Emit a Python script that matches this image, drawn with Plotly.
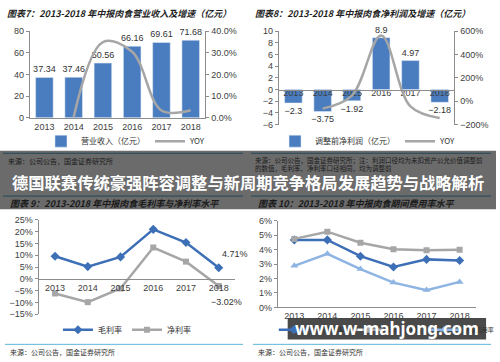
import plotly.graph_objects as go

W, H = 500, 362
def px(x): return x / W
def py(y): return 1 - y / H

# ---------------- data ----------------
years = ["2013", "2014", "2015", "2016", "2017", "2018"]

# chart 7
revenue = [37.34, 37.46, 50.56, 66.16, 69.61, 71.68]
revenue_yoy = [None, 0.003, 0.35, 0.305, 0.034, 0.035]

# chart 8
profit = [-2.3, -3.75, -1.92, 8.9, 4.97, -2.18]
profit_yoy = [None, -0.63, 0.488, 5.635, -0.442, -1.439]

# chart 9
gross_margin = [9.6, 5.2, 9.3, 21.0, 15.4, 4.71]
net_margin = [-6.2, -9.9, -4.1, 13.3, 7.3, -3.02]

# chart 10
exp_a = [4.68, 4.68, 3.55, 2.8, 3.33, 3.25]
exp_b = [4.75, 5.25, 4.48, 4.04, 3.97, 4.0]
exp_c = [2.88, 3.72, 2.66, 1.72, 1.2, 1.77]

titles = [
    "图表7：2013-2018 年中报肉食营业收入及增速（亿元）",
    "图表8：2013-2018 年中报肉食净利润及增速（亿元）",
    "图表 9：2013-2018 年中报肉食毛利率与净利率水平",
    "图表 10：2013-2018 年中报肉食期间费用率水平",
]
source_a = "来源：公司公告，国金证券研究所"
source_b1 = "来源：公司公告，国金证券研究所；注：利润口径均为未扣资产公允价值调整前"
source_b2 = "的数值，毛利率、净利率口径相同，均为调整前"
headline = "德国联赛传统豪强阵容调整与新周期竞争格局发展趋势与战略解析"
watermark = "www.w-mahjong.com"

BLUE = "#4a7dbf"
DBLUE = "#3d6fb6"
LBLUE = "#8db4e2"
GREY = "#a6a6a6"
AX = "#8c8c8c"
TXT = "#404040"
FONT = "Liberation Sans, Arial, Noto Sans CJK SC"
CJK = "Noto Sans CJK SC"
TF = dict(size=9, color=TXT, family=FONT)

# category positions (index of each year) for the x axes
xi = list(range(len(years)))

fig = go.Figure()

# chart 7
fig.add_trace(go.Bar(x=xi, y=revenue, name="营业收入（亿元）", marker_color=BLUE, width=0.6,
                     text=[f"{v:.2f}" for v in revenue], textposition="outside", constraintext="none",
                     textfont=dict(size=9, color="#333", family=FONT), cliponaxis=False,
                     xaxis="x", yaxis="y", legend="legend"))
fig.add_trace(go.Scatter(x=xi, y=revenue_yoy, name="YOY", mode="lines",
                         line=dict(color=GREY, width=2.5, shape="spline", smoothing=1.0),
                         xaxis="x", yaxis="y2", legend="legend"))

# chart 8
fig.add_trace(go.Bar(x=xi, y=profit, name="调整前净利润（亿元）", marker_color=BLUE, width=0.6,
                     text=[str(v).replace("-", "−") for v in profit], textposition="outside",
                     constraintext="none",
                     textfont=dict(size=9, color="#333", family=FONT), cliponaxis=False,
                     xaxis="x2", yaxis="y3", legend="legend2"))
fig.add_trace(go.Scatter(x=xi, y=profit_yoy, name="YOY", mode="lines",
                         line=dict(color=GREY, width=2.5, shape="spline", smoothing=1.0),
                         xaxis="x2", yaxis="y4", legend="legend2"))
# chart 8 category labels sitting on the zero line
fig.add_trace(go.Scatter(x=xi, y=[0] * len(years), mode="text", text=years, textposition="bottom center",
                         textfont=TF, cliponaxis=False, showlegend=False, hoverinfo="skip",
                         xaxis="x2", yaxis="y3"))

# chart 9
fig.add_trace(go.Scatter(x=xi, y=gross_margin, name="毛利率", mode="lines+markers",
                         line=dict(color=DBLUE, width=2.5),
                         marker=dict(symbol="diamond", size=7, color=DBLUE),
                         cliponaxis=False, xaxis="x3", yaxis="y5", legend="legend3"))
fig.add_trace(go.Scatter(x=xi, y=net_margin, name="净利率", mode="lines+markers",
                         line=dict(color=GREY, width=2.5),
                         marker=dict(symbol="square", size=6, color=GREY),
                         cliponaxis=False, xaxis="x3", yaxis="y5", legend="legend3"))

# chart 10
fig.add_trace(go.Scatter(x=xi, y=exp_a, name="销售费用率", mode="lines+markers",
                         line=dict(color=DBLUE, width=2.5),
                         marker=dict(symbol="diamond", size=7, color=DBLUE),
                         xaxis="x4", yaxis="y6", legend="legend4"))
fig.add_trace(go.Scatter(x=xi, y=exp_b, name="期间费用率", mode="lines+markers",
                         line=dict(color=GREY, width=2.5),
                         marker=dict(symbol="square", size=6, color=GREY),
                         xaxis="x4", yaxis="y6", legend="legend4"))
fig.add_trace(go.Scatter(x=xi, y=exp_c, name="管理费用率", mode="lines+markers",
                         line=dict(color=LBLUE, width=2.5),
                         marker=dict(symbol="triangle-up", size=7, color=LBLUE),
                         xaxis="x4", yaxis="y6", legend="legend4"))

def xax(domain, **kw):
    d = dict(domain=domain, type="linear", range=[-0.5, len(years) - 0.5],
             tickmode="array", tickvals=xi, ticktext=years,
             showline=True, linecolor=AX, linewidth=1, layer="above traces",
             ticks="", tickfont=TF, showgrid=False, zeroline=False, fixedrange=True)
    d.update(kw)
    return d

def yax(**kw):
    d = dict(showline=True, linecolor=AX, linewidth=1, ticks="outside", ticklen=3,
             tickcolor=AX, tickfont=TF, showgrid=False, zeroline=False, fixedrange=True)
    d.update(kw)
    return d

def leg(x, y, size=8, xanchor="center"):
    return dict(orientation="h", xanchor=xanchor, yanchor="middle", x=x, y=y,
                font=dict(size=size, color="#333", family=CJK),
                bgcolor="rgba(0,0,0,0)", itemwidth=30)

fig.update_layout(
    width=W, height=H, autosize=False, margin=dict(l=0, r=0, t=0, b=0),
    paper_bgcolor="white", plot_bgcolor="white", showlegend=True,
    xaxis=xax([px(30), px(207)], anchor="y"),
    yaxis=yax(domain=[py(116), py(27)], range=[0, 80], dtick=20, anchor="x"),
    yaxis2=yax(overlaying="y", side="right", anchor="x", range=[0, 0.4], dtick=0.1, tickformat=".1%"),
    xaxis2=xax([px(281), px(458)], anchor="free", position=py(87), showticklabels=False),
    yaxis3=yax(domain=[py(123), py(27)], range=[-6, 10], dtick=2, anchor="x2"),
    yaxis4=yax(overlaying="y3", side="right", anchor="x2", range=[-2, 6], dtick=2, tickformat=".0%"),
    xaxis3=xax([px(39), px(237)], anchor="free", position=py(281.6)),
    yaxis5=yax(domain=[py(318), py(221)], range=[-15, 25], dtick=5, ticksuffix="%", anchor="x3"),
    xaxis4=xax([px(280), px(480)], anchor="y6"),
    yaxis6=yax(domain=[py(311), py(222)], range=[0, 6], dtick=1, ticksuffix="%", anchor="x4"),
    legend=leg(px(127), py(140)),
    legend2=leg(px(371), py(140)),
    legend3=leg(px(128), py(334)),
    legend4=leg(px(276), py(334), size=6, xanchor="left"),
)

shapes = []
annos = []
# chart 9 value labels, anchored to the last data points
annos.append(dict(x=xi[-1], y=gross_margin[-1], xref="x3", yref="y5", text=f"{gross_margin[-1]}%",
                  showarrow=False, xshift=16, yshift=14, font=dict(size=9, color="#333", family=FONT)))
annos.append(dict(x=xi[-1], y=net_margin[-1], xref="x3", yref="y5",
                  text=f"{net_margin[-1]}%".replace("-", "−"),
                  showarrow=False, xshift=8, yshift=-16, font=dict(size=9, color="#333", family=FONT)))
# top chart titles
for i, x0 in enumerate((5, 255)):
    annos.append(dict(x=px(x0), y=py(9), xref="paper", yref="paper", xanchor="left", yanchor="middle",
                      text=f"<b><i>{titles[i]}</i></b>", showarrow=False,
                      font=dict(size=9, color="#1f1f1f", family=CJK)))
# bottom source lines
for x0 in (5, 255):
    shapes.append(dict(type="line", xref="paper", yref="paper", x0=px(x0), x1=px(x0 + 240),
                       y0=py(349), y1=py(349), line=dict(color="#5fb8dc", width=1)))
    annos.append(dict(x=px(x0 + 3), y=py(357), xref="paper", yref="paper", xanchor="left", yanchor="middle",
                      text=source_a, showarrow=False, font=dict(size=7, color="#333", family=CJK)))
# dark band
shapes.append(dict(type="rect", xref="paper", yref="paper", x0=0, x1=1, y0=py(210), y1=py(150),
                   fillcolor="rgba(0,0,0,0.58)", line=dict(width=0), layer="above"))
for x0 in (3, 253):
    shapes.append(dict(type="line", xref="paper", yref="paper", x0=px(x0), x1=px(x0 + 242),
                       y0=py(152.5), y1=py(152.5), line=dict(color="#21495a", width=1), layer="above"))
    shapes.append(dict(type="line", xref="paper", yref="paper", x0=px(x0), x1=px(x0 + 242),
                       y0=py(196.5), y1=py(196.5), line=dict(color="#21495a", width=1), layer="above"))
annos.append(dict(x=px(6), y=py(160), xref="paper", yref="paper", xanchor="left", yanchor="middle",
                  text=source_a, showarrow=False, font=dict(size=7, color="#1a1a1a", family=CJK)))
annos.append(dict(x=px(255), y=py(159), xref="paper", yref="paper", xanchor="left", yanchor="middle",
                  text=source_b1, showarrow=False, font=dict(size=6.5, color="#1a1a1a", family=CJK)))
annos.append(dict(x=px(255), y=py(167.5), xref="paper", yref="paper", xanchor="left", yanchor="middle",
                  text=source_b2, showarrow=False, font=dict(size=6.5, color="#1a1a1a", family=CJK)))
for i, x0 in ((2, 8), (3, 258)):
    annos.append(dict(x=px(x0), y=py(204), xref="paper", yref="paper", xanchor="left", yanchor="middle",
                      text=f"<b><i>{titles[i]}</i></b>", showarrow=False,
                      font=dict(size=9, color="#1a1a1a", family=CJK)))
annos.append(dict(x=0.5, y=py(182), xref="paper", yref="paper", xanchor="center", yanchor="middle",
                  text=f"<b>{headline}</b>", showarrow=False,
                  font=dict(size=16.3, color="white", family=CJK)))
# watermark
shapes.append(dict(type="rect", xref="paper", yref="paper", x0=px(290), x1=px(490), y0=py(344), y1=py(322),
                   fillcolor="rgba(60,60,60,0.93)", line=dict(width=0), layer="above"))
annos.append(dict(x=px(390), y=py(333), xref="paper", yref="paper", xanchor="center", yanchor="middle",
                  text=f"<b>{watermark}</b>", showarrow=False,
                  font=dict(size=17, color="white", family="Noto Sans")))

fig.update_layout(shapes=shapes, annotations=annos)
fig.write_html("out.html")
